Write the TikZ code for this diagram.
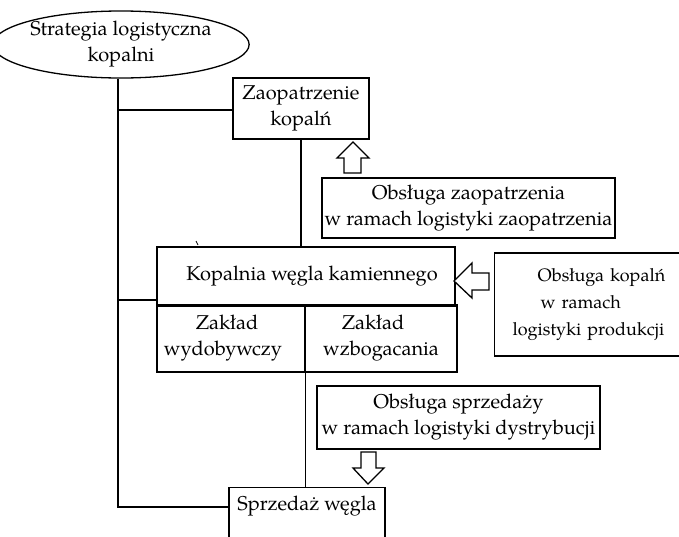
\documentclass[tikz,border=0pt]{standalone}
\usepackage{fontspec}
\setmainfont{texgyrepagella}[Extension=.otf,UprightFont=*-regular,BoldFont=*-bold,ItalicFont=*-italic,BoldItalicFont=*-bolditalic]
\usetikzlibrary{shapes.geometric}
\begin{document}
\begin{tikzpicture}[x=1pt,y=-1pt,line width=1.3pt,
  txt/.style={font=\fontsize{20}{26}\selectfont, align=center, inner sep=0pt},
  box/.style={draw, rectangle, txt},
  hollow/.style={draw, fill=white, line width=1.3pt, line join=miter}]
\useasboundingbox (0,0) rectangle (679,536);
\clip (0,0) rectangle (679,536);
\fill[white] (0,0) rectangle (679,536);

% main blocks
\node[ellipse, draw, minimum width=222, minimum height=67, txt] (strat) at (121,44.5) {Strategia logistyczna\\kopalni};
\node[box, minimum width=136, minimum height=61] (zao) at (301,108.5) {Zaopatrzenie\\kopalń};
\node[box, minimum width=293, minimum height=60] (obzao) at (468.5,208) {Obsługa zaopatrzenia\\w ramach logistyki zaopatrzenia};
\node[box, minimum width=298, minimum height=58] (kop) at (306,276) {\hspace*{12pt}Kopalnia węgla kamiennego};
\node[box, minimum width=148, minimum height=67] (wyd) at (231,338.5) {\hspace*{-8pt}Zakład\\\hspace*{-16pt}wydobywczy};
\node[box, minimum width=152, minimum height=67] (wzb) at (381,338.5) {\hspace*{-16pt}Zakład\\wzbogacania};
\draw[line width=2.2pt] (kop.south west) -- (kop.south east);
\node[box, anchor=west, minimum height=103, text width=200, inner xsep=18pt, align=left,
      font=\fontsize{18}{27}\selectfont] (obkop) at (494,304.5)
      {\hspace*{25pt}Obsługa kopalń\\\hspace*{28pt}w ramach\\logistyki produkcji};
\node[box, minimum width=283, minimum height=63] (obsp) at (458.5,417.5) {Obsługa sprzedaży\\w ramach logistyki dystrybucji};
\node[box, anchor=north, minimum width=156, text height=23pt, text depth=50pt] (sprz) at (307,487) {Sprzedaż węgla};

% connectors
\coordinate (j1) at (118,110);
\coordinate (j2) at (118,300);
\coordinate (j3) at (118,507);
\draw (strat.south -| j1) -- (j3) -- (j3 -| sprz.west);
\draw (j1) -- (j1 -| zao.west);
\draw (j2) -- (j2 -| kop.west);
\draw (zao.south) -- (zao.south |- kop.north);
\draw (wyd.south east) -- (wyd.south east |- sprz.north);

% hollow block arrows
\draw[hollow] (353,142) -- (369,158) -- (361,158) -- (361,173) -- (344,173) -- (344,158) -- (337,158) -- cycle;
\draw[hollow] (454,281) -- (472,263) -- (472,273) -- (489,273) -- (489,290) -- (472,290) -- (472,298) -- cycle;
\draw[hollow] (368,484) -- (384,468) -- (376,468) -- (376,452) -- (361,452) -- (361,468) -- (353,468) -- cycle;

% small tick above the mine block
\draw[line width=0.8pt] (196,241) -- (198,245);
\end{tikzpicture}
\end{document}
